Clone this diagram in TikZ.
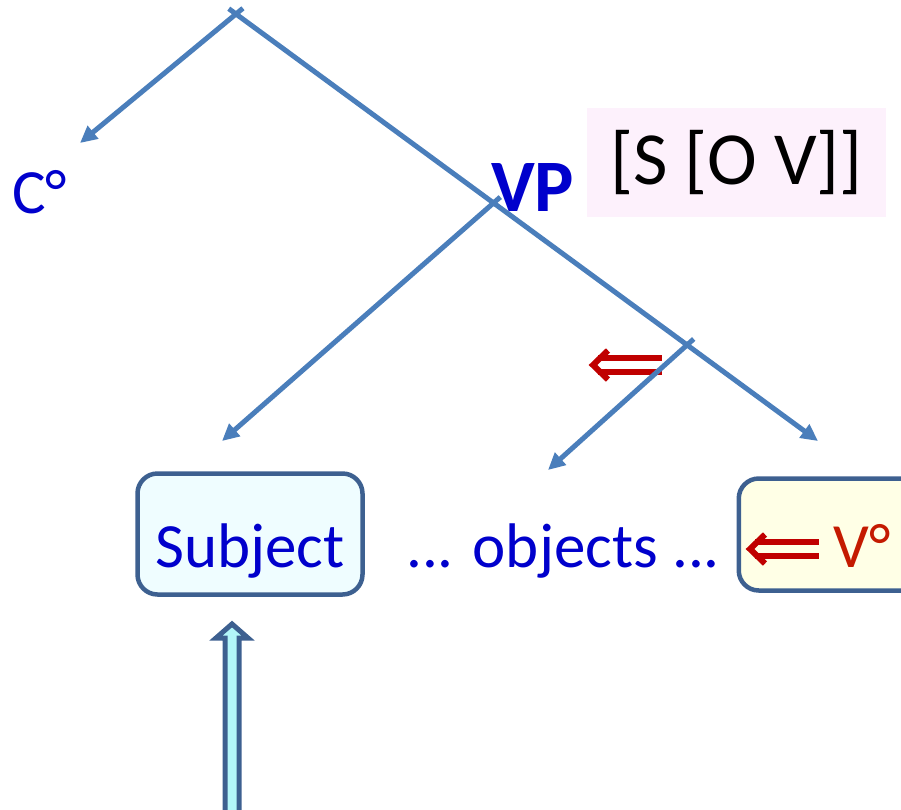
\documentclass[tikz,border=0pt]{standalone}
\usepackage{fontspec}
\setmainfont{Carlito}
\usetikzlibrary{arrows.meta}
\definecolor{branch}{HTML}{4A7EBB}
\definecolor{tblue}{HTML}{0000CC}
\definecolor{tred}{HTML}{C00000}
\definecolor{vred}{HTML}{C41A00}
\definecolor{boxline}{HTML}{3D6090}
\definecolor{subjfill}{HTML}{EFFDFF}
\definecolor{vfill}{HTML}{FFFFE6}
\definecolor{pinkfill}{HTML}{FDF1FC}
\definecolor{arrfill}{HTML}{B3F6F9}
\begin{document}
\begin{tikzpicture}[x=1pt,y=-1pt,
  branchline/.style={draw=branch, line width=5pt, -{Triangle[length=17pt,width=16pt]}, shorten <=-9pt},
  lbl/.style={inner sep=0pt, anchor=base west, font=\fontsize{63}{70}\selectfont},
  rbox/.style={draw=boxline, line width=4.5pt, rounded corners=20pt, inner sep=0pt},
  dblleft/.pic={
    \draw[tred, line width=6pt, line join=miter] (18,-14.5) -- (3,0) -- (18,14.5);
    \draw[tred, line width=6pt] (8,-7) -- (#1,-7) (8,7) -- (#1,7);
  }]
\clip (0,0) rectangle (901,809);
% branch points
\coordinate (A) at (236,14);
\coordinate (B) at (493.5,203);
\coordinate (D) at (687,345);
\coordinate (Ct) at (80,143);
\coordinate (Vt) at (818,441);
\coordinate (St) at (222,441);
\coordinate (Ot) at (548,470);
% labels
\node[lbl, text=tblue] (cdeg) at (12,213) {C°};
\node[inner sep=0pt, anchor=base west, text=tblue, font=\bfseries\fontsize{74}{80}\selectfont] (vp) at (491,211) {VP};
\node[fill=pinkfill, minimum width=299pt, minimum height=109pt, inner sep=0pt,
      font=\fontsize{75}{80}\selectfont] (sov) at (736.5,162.5) {[S [O V]]};
% boxes
\node[rbox, fill=subjfill, minimum width=225pt, minimum height=121pt,
      text=tblue, font=\fontsize{63}{70}\selectfont, text height=66pt, text depth=0pt] (subj) at (250,534) {Subject};
\node[lbl, text=tblue] (objs) at (406,567) {... objects ...};
\node[rbox, fill=vfill, minimum height=112pt, anchor=west, inner xsep=95pt, text width=60pt, align=left,
      text=vred, font=\fontsize{63}{70}\selectfont, text height=66pt, text depth=0pt] (vbox) at (736.5,534.5) {V°};
% double arrows
\pic (varrow) at (747,549) {dblleft=72};
\pic (larrow) at (590,365) {dblleft=72};
% branches
\draw[branchline] (A) -- (Ct);
\draw[branchline] (A) -- (Vt);
\draw[branchline] (B) -- (St);
\draw[branchline] (D) -- (Ot);
% block arrow
\draw[draw=boxline, line width=5pt, fill=arrfill, line join=miter]
  (225,815) -- (225,638) -- (216,638) -- (232,624) -- (248,638) -- (239,638) -- (239,815) -- cycle;
\end{tikzpicture}
\end{document}
